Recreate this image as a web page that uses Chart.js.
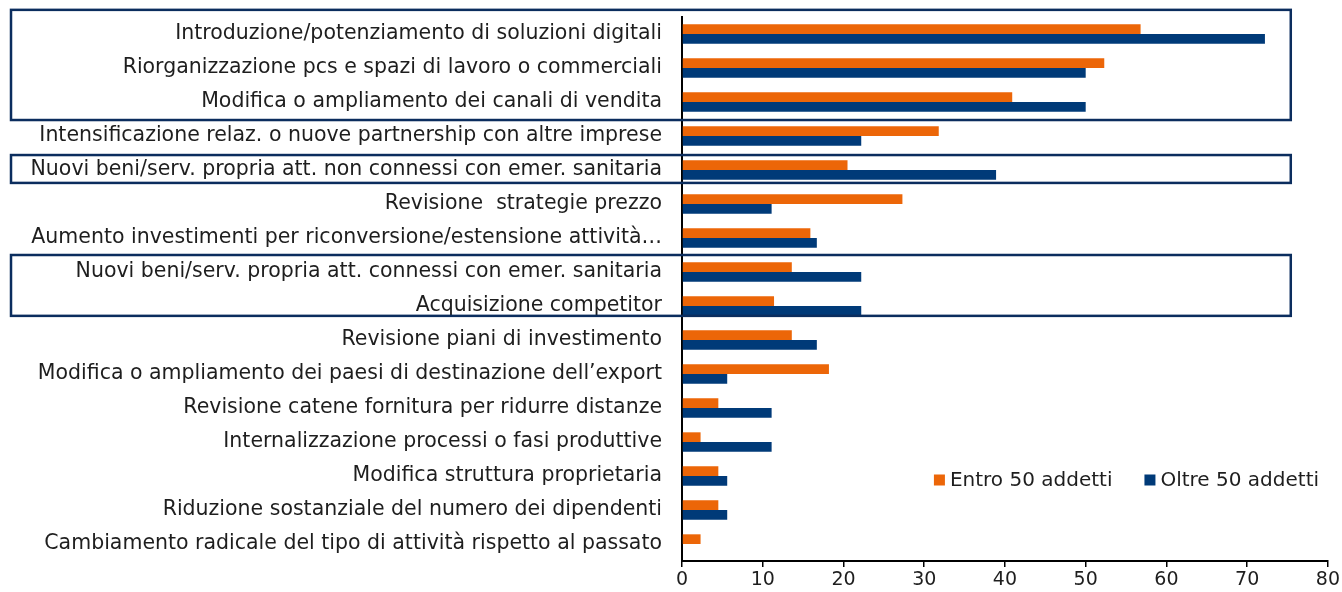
<!DOCTYPE html>
<html>
<head>
<meta charset="utf-8">
<script src="https://cdn.jsdelivr.net/npm/chart.js@4.4.0/dist/chart.umd.min.js"></script>
<style>
  html, body { margin: 0; padding: 0; background: #ffffff; }
  #wrap { width: 1342px; height: 592px; position: relative; }
</style>
</head>
<body>
<div id="wrap"><canvas id="c" width="1342" height="592"></canvas></div>
<script>
const categories = [
  "Introduzione/potenziamento di soluzioni digitali",
  "Riorganizzazione pcs e spazi di lavoro o commerciali",
  "Modifica o ampliamento dei canali di vendita",
  "Intensificazione relaz. o nuove partnership con altre imprese",
  "Nuovi beni/serv. propria att. non connessi con emer. sanitaria",
  "Revisione  strategie prezzo",
  "Aumento investimenti per riconversione/estensione attività…",
  "Nuovi beni/serv. propria att. connessi con emer. sanitaria",
  "Acquisizione competitor",
  "Revisione piani di investimento",
  "Modifica o ampliamento dei paesi di destinazione dell’export",
  "Revisione catene fornitura per ridurre distanze",
  "Internalizzazione processi o fasi produttive",
  "Modifica struttura proprietaria",
  "Riduzione sostanziale del numero dei dipendenti",
  "Cambiamento radicale del tipo di attività rispetto al passato"
];
const seriesNames = ["Entro 50 addetti", "Oltre 50 addetti"];
const entro50 = [56.8, 52.3, 40.9, 31.8, 20.5, 27.3, 15.9, 13.6, 11.4, 13.6, 18.2, 4.5, 2.3, 4.5, 4.5, 2.3];
const oltre50 = [72.2, 50.0, 50.0, 22.2, 38.9, 11.1, 16.7, 22.2, 22.2, 16.7, 5.6, 11.1, 11.1, 5.6, 5.6, 0];
const xTickValues = [0, 10, 20, 30, 40, 50, 60, 70, 80];
// highlighted groups of categories (first index, last index)
const boxGroups = [[0, 2], [4, 4], [7, 8]];

const FONT = "'DejaVu Sans', sans-serif";
const TEXT = "#1e1e1e";
const ORANGE = "#EC6608";
const BLUE = "#003A78";
const NAVY = "#0B2D5E";

const boxPlugin = {
  id: 'boxes',
  afterDraw(chart) {
    const ctx = chart.ctx;
    const y = chart.scales.y, x = chart.scales.x;
    const pads = [[-0.71, 0.53], [-0.44, 0.38], [-0.5, 0.29]];
    ctx.save();
    ctx.strokeStyle = NAVY;
    ctx.lineWidth = 2.5;
    boxGroups.forEach((g, i) => {
      const top = y.getPixelForValue(g[0] + pads[i][0]);
      const bot = y.getPixelForValue(g[1] + pads[i][1]);
      const left = 11;
      const right = x.getPixelForValue(75.4);
      ctx.strokeRect(left, top, right - left, bot - top);
    });
    ctx.restore();
  }
};

const legendPlugin = {
  id: 'customLegend',
  afterDraw(chart) {
    const ctx = chart.ctx;
    const y = chart.scales.y, x = chart.scales.x;
    ctx.save();
    ctx.font = "20px " + FONT;
    ctx.textBaseline = 'middle';
    const cy = y.getPixelForValue(13) + 4;
    const box = 11, gap = 5, between = 32;
    const items = chart.data.datasets.map(d => ({ label: d.label, color: d.backgroundColor, w: ctx.measureText(d.label).width }));
    let total = 0;
    items.forEach((it, i) => { total += box + gap + it.w + (i < items.length - 1 ? between : 0); });
    let cx = x.getPixelForValue(78.9) - total;
    items.forEach(it => {
      ctx.fillStyle = it.color;
      ctx.fillRect(cx, cy - box / 2, box, box);
      cx += box + gap;
      ctx.fillStyle = TEXT;
      ctx.textAlign = 'left';
      ctx.fillText(it.label, cx, cy + 1);
      cx += it.w + between;
    });
    ctx.restore();
  }
};

new Chart(document.getElementById('c'), {
  type: 'bar',
  data: {
    labels: categories,
    datasets: [
      { label: seriesNames[0], data: entro50, backgroundColor: ORANGE, borderWidth: 0, barPercentage: 1.0, categoryPercentage: 0.57 },
      { label: seriesNames[1], data: oltre50, backgroundColor: BLUE, borderWidth: 0, barPercentage: 1.0, categoryPercentage: 0.57 }
    ]
  },
  options: {
    indexAxis: 'y',
    responsive: false,
    animation: false,
    devicePixelRatio: 1,
    layout: { padding: { top: 17, right: 14, left: 0, bottom: 0 } },
    plugins: { legend: { display: false }, tooltip: { enabled: false } },
    scales: {
      x: {
        min: 0, max: 80,
        afterBuildTicks(scale) { scale.ticks = xTickValues.map(v => ({ value: v })); },
        afterFit(scale) { scale.height = 31; },
        grid: { display: true, drawOnChartArea: false, drawTicks: true, tickLength: 6, color: '#000', lineWidth: 1.5 },
        border: { display: true, color: '#000', width: 2 },
        ticks: { color: TEXT, font: { family: FONT, size: 19 }, padding: 2, maxRotation: 0 }
      },
      y: {
        afterFit(scale) { scale.width = 682; scale.paddingTop = 0; scale.paddingBottom = 0; },
        grid: { display: false, drawTicks: false },
        border: { display: true, color: '#000', width: 2 },
        ticks: { color: TEXT, font: { family: FONT, size: 20.5 }, padding: 20, autoSkip: false }
      }
    }
  },
  plugins: [boxPlugin, legendPlugin]
});
</script>
</body>
</html>
